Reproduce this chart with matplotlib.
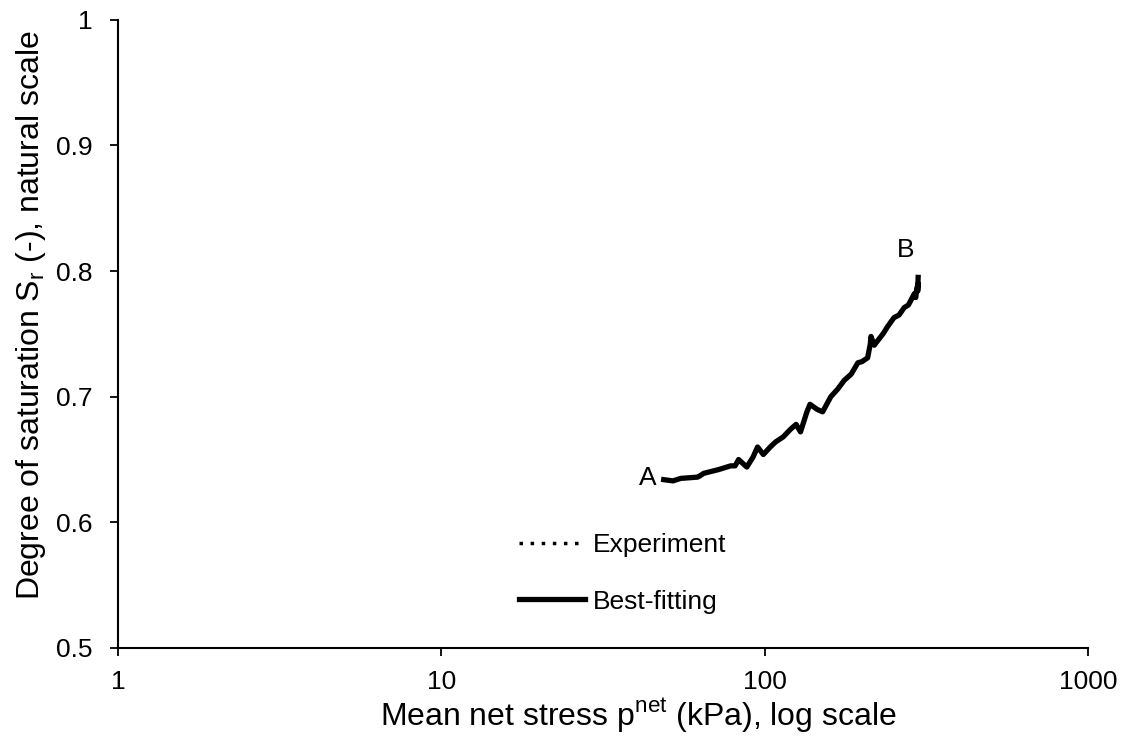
import matplotlib
matplotlib.use("Agg")
import matplotlib.pyplot as plt
from matplotlib.lines import Line2D

plt.rcParams['font.family'] = ['Liberation Sans', 'DejaVu Sans']

p_net = [48.7, 52, 55, 62, 63, 64.7, 72, 78.5, 81, 83, 88, 92, 95, 99, 104, 108, 114,
         120, 125, 129, 135, 138, 145, 151, 160, 168, 176, 185, 194, 200, 208, 212,
         213, 218, 224, 232, 240, 251, 260, 270, 278, 282, 290, 293, 295, 298, 297, 298]
sr = [0.634, 0.633, 0.635, 0.636, 0.637, 0.639, 0.642, 0.645, 0.645, 0.650, 0.644,
      0.652, 0.660, 0.654, 0.660, 0.664, 0.668, 0.674, 0.678, 0.672, 0.688, 0.694,
      0.690, 0.688, 0.700, 0.706, 0.713, 0.718, 0.727, 0.728, 0.731, 0.742, 0.748,
      0.741, 0.745, 0.750, 0.756, 0.763, 0.765, 0.771, 0.773, 0.776, 0.782, 0.779,
      0.786, 0.790, 0.784, 0.795]

fig = plt.figure(figsize=(11.23, 7.36), dpi=100)
ax = fig.add_axes([0.105, 0.1196, 0.864, 0.8534])

ax.plot(p_net, sr, color='black', linestyle=(0, (1, 2)), linewidth=2.2)
ax.plot(p_net, sr, color='black', linestyle='-', linewidth=3.8)

ax.set_xscale('log')
ax.set_xlim(1, 1000)
ax.set_ylim(0.5, 1.0)
ax.set_xticks([1, 10, 100, 1000])
ax.set_xticklabels(['1', '10', '100', '1000'])
ax.minorticks_off()
ax.set_yticks([0.5, 0.6, 0.7, 0.8, 0.9, 1.0])
ax.set_yticklabels(['0.5', '0.6', '0.7', '0.8', '0.9', '1'])
ax.tick_params(labelsize=19, direction='out', length=6, width=1.3)
ax.tick_params(axis='y', pad=12)
ax.tick_params(axis='x', pad=10)
for s in ['top', 'right']:
    ax.spines[s].set_visible(False)
for s in ['left', 'bottom']:
    ax.spines[s].set_linewidth(1.5)

ax.set_xlabel(r'Mean net stress p$^{\mathregular{net}}$ (kPa), log scale', fontsize=23)
ax.xaxis.set_label_coords(0.536, -0.078)
ax.set_ylabel(r'Degree of saturation S$_{\mathregular{r}}$ (-), natural scale', fontsize=23)
ax.yaxis.set_label_coords(-0.072, 0.529)

ax.text(43.5, 0.6355, 'A', fontsize=19, ha='center', va='center')
ax.text(273, 0.817, 'B', fontsize=19, ha='center', va='center')

handles = [Line2D([], [], color='black', linestyle=(0, (1, 2.2)), linewidth=2.5),
           Line2D([], [], color='black', linestyle='-', linewidth=3.8)]
leg = ax.legend(handles, ['Experiment', 'Best-fitting'], loc='center left',
                bbox_to_anchor=(0.4, 0.119), frameon=False, fontsize=19,
                borderpad=0, handlelength=2.5, handletextpad=0.3, labelspacing=1.25)

fig.savefig('out.png', dpi=100)
